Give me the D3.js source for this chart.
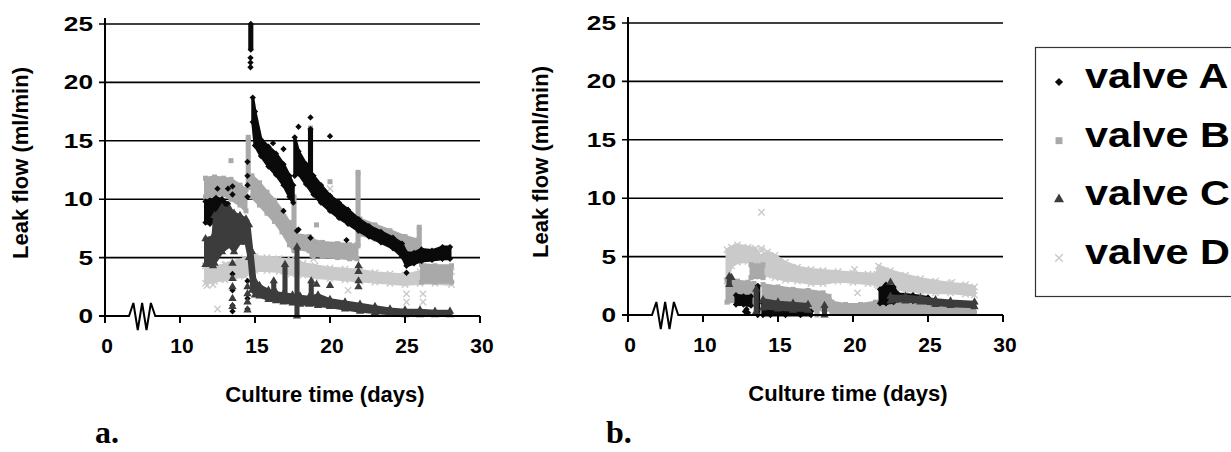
<!DOCTYPE html>
<html>
<head>
<meta charset="utf-8">
<script src="https://cdn.jsdelivr.net/npm/d3@7"></script>
<style>
    body { margin: 0; background: #fff; }
    text { font-family: "Liberation Sans", Arial, sans-serif; font-weight: bold; fill: #000; }
</style>
</head>
<body>
<svg id="chart" width="1231" height="452"></svg>
<script>
// Axis ticks and series
const ticksX = [0, 10, 15, 20, 25, 30];
const ticksY = [0, 5, 10, 15, 20, 25];
const breakDays = [3.2, 6.7];
const seriesNames = ['valve A', 'valve B', 'valve C', 'valve D'];
const seriesColors = ['#0a0a0a', '#a9a9a9', '#3c3c3c', '#cacaca'];

// Panel a: dense runs as [day, low, high], spikes as [day, low, high], single points as [day, value]
const aBandsA = [
    [[11.7, 8.0, 9.8], [12.0, 7.9, 9.9], [12.4, 8.4, 10.1], [12.8, 8.6, 10.0], [13.2, 8.2, 9.6]],
    [[14.85, 16.6, 18.7], [15.0, 14.6, 17.5], [15.4, 13.7, 15.1], [15.9, 12.8, 14.5], [16.4, 12.1, 13.9], [16.9, 11.2, 13.0], [17.3, 10.2, 12.0], [17.55, 9.7, 11.2]],
    [[17.65, 12.0, 15.3], [17.9, 12.2, 14.1], [18.4, 11.3, 13.0], [18.9, 10.4, 12.0], [19.4, 9.7, 11.2], [20.0, 9.0, 10.3], [20.6, 8.4, 9.7], [21.2, 7.9, 9.1], [21.9, 7.3, 8.3], [22.6, 6.8, 7.7], [23.4, 6.3, 7.2], [24.2, 5.8, 6.7], [24.8, 5.1, 6.2], [25.1, 4.3, 5.4], [25.6, 4.5, 5.4], [26.1, 4.7, 5.7], [26.8, 4.8, 5.6], [27.5, 4.9, 5.9], [28.0, 4.9, 5.9]]
];
const aSpikesA = [[14.72, 22.8, 25.0], [18.7, 12.2, 16.0]];
const aPointsA = [[12.5, 10.9], [13.2, 10.9], [13.5, 11.1], [13.5, 10.4], [13.5, 3.6], [13.5, 2.2], [13.5, 0.9], [13.5, 0.4],
    [14.5, 13.2], [14.5, 12.0], [14.5, 11.2], [14.5, 10.2], [14.5, 3.0], [14.5, 1.5], [14.5, 0.6], [14.7, 21.3], [14.7, 21.7], [14.7, 22.1],
    [16.2, 14.8], [16.9, 14.3], [16.9, 9.0], [17.9, 16.2], [17.8, 7.3], [17.9, 7.4], [18.7, 17.0], [18.7, 6.7], [20.0, 15.4], [21.1, 6.5], [25.1, 3.7]];

const aBandsB = [
    [[11.7, 10.2, 11.8], [12.3, 10.3, 11.9], [12.9, 10.4, 11.8], [13.4, 10.0, 11.7], [14.0, 9.5, 11.2], [14.4, 9.0, 10.8]],
    [[14.8, 10.2, 12.0], [15.3, 9.5, 11.4], [15.8, 8.8, 10.6], [16.3, 8.1, 9.9], [16.8, 7.2, 9.0], [17.3, 6.1, 8.0], [17.6, 5.6, 7.2]],
    [[17.6, 5.8, 7.0], [18.6, 5.6, 6.8], [18.8, 5.2, 6.5], [19.5, 5.1, 6.3], [20.5, 5.0, 6.2], [21.3, 4.9, 6.1], [21.8, 4.9, 6.1]],
    [[22.0, 7.0, 8.3], [23.0, 6.6, 7.8], [24.0, 6.2, 7.3], [25.0, 5.4, 6.8], [25.9, 5.2, 6.5]],
    [[26.1, 2.9, 4.4], [27.0, 2.9, 4.3], [28.1, 2.9, 4.3]]
];
const aSpikesB = [[14.55, 11.0, 15.3], [17.6, 6.5, 10.2], [18.7, 14.0, 16.1], [21.87, 6.0, 12.3], [25.95, 5.0, 7.6]];
const aPointsB = [[13.4, 13.3], [19.1, 7.8], [20.0, 11.5]];

const aBandsC = [
    [[11.7, 4.4, 6.6], [12.2, 4.3, 6.8], [12.3, 4.5, 8.6], [12.8, 5.5, 9.3], [13.3, 6.0, 9.2], [13.6, 5.5, 8.8], [14.0, 6.3, 8.6], [14.4, 6.3, 8.3],
     [14.6, 5.0, 7.8], [14.8, 2.2, 5.5], [15.0, 1.8, 3.0], [15.3, 1.7, 2.6], [15.9, 1.4, 2.2], [16.4, 1.3, 2.0], [16.9, 1.2, 1.9], [17.5, 1.1, 1.8],
     [18.0, 1.0, 1.7], [18.6, 1.0, 1.6], [19.2, 0.9, 1.8], [20.0, 0.8, 1.4], [21.0, 0.6, 1.2], [22.0, 0.4, 1.0], [23.0, 0.3, 0.8], [24.0, 0.2, 0.6],
     [25.0, 0.1, 0.5], [26.0, 0.1, 0.5], [27.0, 0.1, 0.4], [28.0, 0.1, 0.4]]
];
const aSpikesC = [[16.25, 1.5, 3.0], [17.0, 1.3, 4.4], [17.8, 0.0, 5.9], [18.75, 1.2, 3.0]];
const aPointsC = [[12.6, 6.2], [13.5, 4.5], [13.5, 3.2], [13.5, 2.5], [13.5, 1.5], [13.5, 0.8], [14.5, 2.5], [14.5, 1.9], [14.5, 1.2], [14.5, 0.5],
    [19.1, 2.7], [20.0, 2.6], [21.9, 4.3], [21.9, 3.8], [21.9, 3.0], [21.9, 2.5]];

const aBandsD = [
    [[11.7, 2.8, 4.3], [12.3, 3.0, 4.2], [13.0, 3.1, 4.4], [13.6, 3.3, 4.6], [14.3, 3.4, 4.9], [15.0, 3.9, 5.1], [15.8, 3.9, 5.0], [16.6, 3.8, 4.9],
     [17.4, 3.6, 4.8], [18.2, 3.5, 4.5], [19.0, 3.3, 4.3], [20.0, 3.2, 4.1], [21.0, 3.1, 4.0], [22.0, 3.0, 3.9], [23.0, 2.9, 3.7], [24.0, 2.8, 3.6],
     [25.0, 2.7, 3.5], [26.0, 2.8, 3.8], [27.0, 2.8, 3.8], [28.1, 2.7, 3.8]]
];
const aSpikesD = [];
const aPointsD = [[11.8, 2.6], [12.2, 2.7], [12.5, 0.6], [13.1, 4.4], [17.7, 6.5], [18.9, 4.9], [20.0, 10.9], [21.2, 2.2], [25.1, 1.9], [25.1, 1.2], [26.2, 1.9], [26.2, 1.2]];

// Panel b
const bBandsA = [
    [[12.2, 0.9, 1.7], [12.7, 0.9, 1.6], [13.2, 0.8, 1.6]],
    [[14.0, 0.0, 1.0], [14.5, 0.0, 0.6], [15.5, 0.0, 0.4], [16.5, 0.0, 0.35], [17.2, 0.0, 0.3]],
    [[21.8, 1.0, 2.2], [22.2, 1.0, 2.6], [22.7, 1.1, 2.4], [23.0, 1.3, 1.8], [24.0, 1.2, 1.7], [25.0, 1.1, 1.5]]
];
const bSpikesA = [[13.65, 0.0, 2.5]];
const bPointsA = [[12.8, 0.3], [13.0, 0.2], [12.9, 0.5], [12.4, 1.2]];

const bBandsB = [
    [[11.6, 1.1, 3.0], [12.3, 1.2, 2.9], [13.0, 1.2, 2.8], [13.4, 1.0, 2.7]],
    [[13.2, 3.2, 4.3], [14.0, 3.2, 4.3]],
    [[14.0, 0.4, 2.6], [15.0, 0.4, 2.4], [16.0, 0.4, 2.2], [17.0, 0.4, 2.1], [18.0, 0.5, 1.9], [18.4, 0.5, 1.6], [18.6, 0.2, 1.1], [19.5, 0.2, 0.9],
     [20.5, 0.2, 0.9], [21.5, 0.2, 1.1], [22.5, 0.2, 1.2], [23.5, 0.2, 1.1], [24.5, 0.2, 1.1], [25.5, 0.2, 1.0], [26.5, 0.2, 1.0], [28.1, 0.2, 0.9]]
];
const bSpikesB = [[17.6, 0.0, 0.7]];
const bPointsB = [];

const bBandsC = [
    [[14.0, 0.6, 1.3], [15.0, 0.5, 1.1], [16.0, 0.4, 1.0], [17.0, 0.4, 0.9]],
    [[22.5, 1.2, 1.6], [23.5, 1.2, 1.6], [24.5, 1.1, 1.5], [25.5, 0.9, 1.3], [26.5, 0.8, 1.2], [28.1, 0.7, 1.1]]
];
const bSpikesC = [[11.75, 2.6, 3.3], [13.55, 0.3, 2.2], [18.1, 0.0, 0.8]];
const bPointsC = [[22.5, 2.8], [11.9, 3.2]];

const bBandsD = [
    [[11.6, 2.9, 5.6], [11.9, 4.2, 5.8], [12.3, 4.5, 6.0], [13.0, 4.6, 5.8], [13.5, 4.4, 5.7], [13.8, 3.3, 5.0], [14.3, 3.4, 5.4], [14.8, 3.2, 5.1],
     [15.5, 3.0, 4.5], [16.3, 2.9, 4.1], [17.2, 2.7, 3.9], [18.0, 2.7, 3.8], [19.0, 2.9, 3.7], [20.0, 2.8, 3.6], [21.0, 2.7, 3.5], [21.6, 2.6, 3.5],
     [21.7, 2.5, 4.2], [22.5, 2.3, 3.8], [23.5, 2.1, 3.4], [24.5, 2.0, 3.1], [25.5, 1.9, 2.9], [26.5, 1.9, 2.7], [27.5, 1.8, 2.6], [28.1, 1.7, 2.4]]
];
const bSpikesD = [];
const bPointsD = [[13.9, 8.8], [13.9, 5.7], [13.9, 5.5], [20.1, 3.9], [20.3, 1.9], [26.6, 2.8], [22.0, 2.2]];

// diamond = square turned 45 degrees
const symbolTypes = [d3.symbolSquare, d3.symbolSquare, d3.symbolTriangle, d3.symbolTimes || d3.symbolCross];
const symbolRotate = [45, 0, 0, 0];
const symbolSizes = [20, 25, 30, 28];

const svg = d3.select('#chart');

// Draw order: D, B, A, C
const panels = [
    {left: 105, bottom: 316, name: 'a.', nameX: 95, titleX: 28,
     series: [
        {k: 3, bands: aBandsD, spikes: aSpikesD, points: aPointsD},
        {k: 1, bands: aBandsB, spikes: aSpikesB, points: aPointsB},
        {k: 0, bands: aBandsA, spikes: aSpikesA, points: aPointsA},
        {k: 2, bands: aBandsC, spikes: aSpikesC, points: aPointsC}
     ]},
    {left: 628, bottom: 315, name: 'b.', nameX: 606, titleX: 548,
     series: [
        {k: 3, bands: bBandsD, spikes: bSpikesD, points: bPointsD},
        {k: 1, bands: bBandsB, spikes: bSpikesB, points: bPointsB},
        {k: 0, bands: bBandsA, spikes: bSpikesA, points: bPointsA},
        {k: 2, bands: bBandsC, spikes: bSpikesC, points: bPointsC}
     ]}
];

function markerStyle(sel, k, color) {
    sel.style('fill', k === 3 ? 'none' : color)
        .style('stroke', k === 3 ? color : 'none')
        .style('stroke-width', 1.4);
}

function drawPanel(p) {
    // broken axis: 0-10 squeezed, 10-30 regular
    const x = d3.scaleLinear().domain([0, 10, 30]).range([p.left, p.left + 75, p.left + 375]);
    const y = d3.scaleLinear().domain([0, 25]).range([p.bottom, p.bottom - 292]);
    const g = svg.append('g');

    // gridlines
    g.selectAll(null)
        .data(ticksY.filter(v => v > 0))
        .enter()
        .append('line')
        .attr('x1', p.left - 6)
        .attr('x2', x(30))
        .attr('y1', d => y(d))
        .attr('y2', d => y(d))
        .style('stroke', '#000')
        .style('stroke-width', 1.6);

    const area = d3.area().x(d => x(d[0])).y0(d => y(d[1])).y1(d => y(d[2]));

    p.series.forEach(s => {
        const color = seriesColors[s.k];

        g.selectAll(null)
            .data(s.bands)
            .enter()
            .append('path')
            .attr('d', area)
            .style('fill', color)
            .style('stroke', color)
            .style('stroke-width', 3)
            .style('stroke-linejoin', 'round');

        g.selectAll(null)
            .data(s.spikes)
            .enter()
            .append('rect')
            .attr('x', d => x(d[0] - 0.17))
            .attr('width', d => x(d[0] + 0.17) - x(d[0] - 0.17))
            .attr('y', d => y(d[2]))
            .attr('height', d => y(d[1]) - y(d[2]))
            .style('fill', color);

        // markers on band edges, spike ends and single points
        const pts = [];
        s.bands.forEach(b => b.forEach(d => pts.push([d[0], d[1]], [d[0], d[2]])));
        s.spikes.forEach(d => pts.push([d[0], d[1]], [d[0], d[2]]));
        s.points.forEach(d => pts.push(d));

        const sym = d3.symbol().type(symbolTypes[s.k]).size(symbolSizes[s.k]);
        g.selectAll(null)
            .data(pts)
            .enter()
            .append('path')
            .attr('transform', d => `translate(${x(d[0])},${y(d[1])}) rotate(${symbolRotate[s.k]})`)
            .attr('d', sym)
            .call(markerStyle, s.k, color);
    });

    // x axis with the zigzag break
    const b0 = x(breakDays[0]), b1 = x(breakDays[1]);
    const zig = [0, -13, 14, -13, 14, -13, 0];
    const axisPts = [[p.left - 6, p.bottom], [b0, p.bottom]]
        .concat(zig.map((dy, i) => [b0 + i * (b1 - b0) / 6, p.bottom + dy]))
        .concat([[x(30), p.bottom]]);
    g.append('path')
        .attr('d', d3.line()(axisPts))
        .style('fill', 'none')
        .style('stroke', '#000')
        .style('stroke-width', 2);

    g.append('line')
        .attr('x1', p.left).attr('x2', p.left)
        .attr('y1', y(25) - 6).attr('y2', p.bottom + 7)
        .style('stroke', '#000')
        .style('stroke-width', 2);

    g.selectAll(null)
        .data(ticksX.filter(v => v > 0))
        .enter()
        .append('line')
        .attr('x1', d => x(d)).attr('x2', d => x(d))
        .attr('y1', p.bottom).attr('y2', p.bottom + 7)
        .style('stroke', '#000')
        .style('stroke-width', 2);

    // tick labels
    g.selectAll(null)
        .data(ticksX)
        .enter()
        .append('text')
        .attr('x', d => x(d) + 2)
        .attr('y', p.bottom + 37)
        .attr('text-anchor', 'middle')
        .style('font-size', '21px')
        .text(d => d);

    g.selectAll(null)
        .data(ticksY)
        .enter()
        .append('text')
        .attr('transform', d => `translate(${p.left - 12},${y(d) + 7}) scale(1.25,1)`)
        .attr('text-anchor', 'end')
        .style('font-size', '21px')
        .text(d => d);

    // titles
    g.append('text')
        .attr('transform', `translate(${p.titleX},${p.bottom - 153}) rotate(-90)`)
        .attr('text-anchor', 'middle')
        .style('font-size', '22px')
        .text('Leak flow (ml/min)');

    g.append('text')
        .attr('x', p.left + 220)
        .attr('y', p.bottom + 86)
        .attr('text-anchor', 'middle')
        .style('font-size', '22px')
        .text('Culture time (days)');

    g.append('text')
        .attr('x', p.nameX)
        .attr('y', 443)
        .style('font-family', '"Liberation Serif", "Times New Roman", serif')
        .style('font-size', '32px')
        .text(p.name);
}

panels.forEach(drawPanel);

// legend
const legend = svg.append('g');
legend.append('rect')
    .attr('x', 1035.5).attr('y', 47.5)
    .attr('width', 260).attr('height', 249)
    .style('fill', '#fff')
    .style('stroke', '#333')
    .style('stroke-width', 1.2);

const legendY = d3.scalePoint().domain(seriesNames).range([88, 264]);

seriesNames.forEach((name, k) => {
    const sym = d3.symbol().type(symbolTypes[k]).size([34, 48, 44, 40][k]);
    legend.append('path')
        .attr('transform', `translate(1059,${legendY(name) - 6}) rotate(${symbolRotate[k]})`)
        .attr('d', sym)
        .call(markerStyle, k, seriesColors[k]);
    legend.append('text')
        .attr('transform', `translate(1085,${legendY(name)}) scale(1.15,1)`)
        .style('font-size', '36px')
        .text(name);
});
</script>
</body>
</html>
